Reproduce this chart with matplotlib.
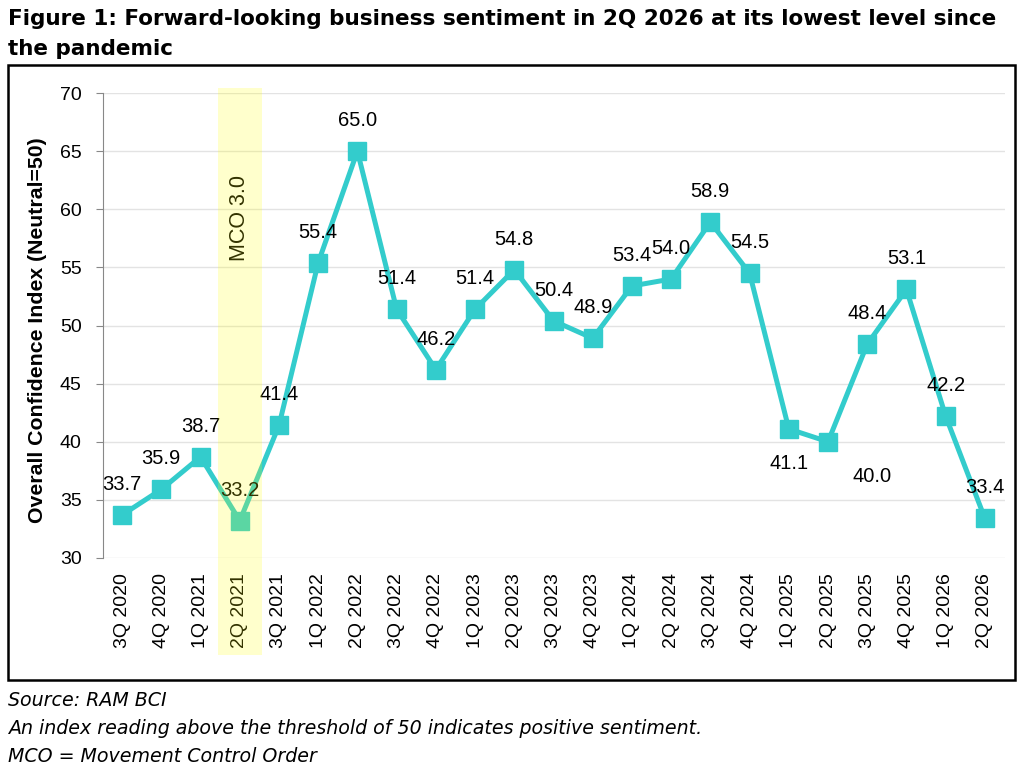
import matplotlib
matplotlib.use("Agg")
import matplotlib.pyplot as plt
from matplotlib.patches import Rectangle
import matplotlib.transforms as mtransforms

categories = ["3Q 2020", "4Q 2020", "1Q 2021", "2Q 2021", "3Q 2021", "1Q 2022",
              "2Q 2022", "3Q 2022", "4Q 2022", "1Q 2023", "2Q 2023", "3Q 2023",
              "4Q 2023", "1Q 2024", "2Q 2024", "3Q 2024", "4Q 2024", "1Q 2025",
              "2Q 2025", "3Q 2025", "4Q 2025", "1Q 2026", "2Q 2026"]
values = [33.7, 35.9, 38.7, 33.2, 41.4, 55.4, 65.0, 51.4, 46.2, 51.4, 54.8, 50.4,
          48.9, 53.4, 54.0, 58.9, 54.5, 41.1, 40.0, 48.4, 53.1, 42.2, 33.4]
yticks = [30, 35, 40, 45, 50, 55, 60, 65, 70]

title_lines = ["Figure 1: Forward-looking business sentiment in 2Q 2026 at its lowest level since",
               "the pandemic"]
notes = ["Source: RAM BCI",
         "An index reading above the threshold of 50 indicates positive sentiment.",
         "MCO = Movement Control Order"]

W, H = 1021, 772
fig = plt.figure(figsize=(W / 100, H / 100), dpi=100)

# outer frame
fig.patches.append(Rectangle((8 / W, 1 - 680 / H), (1015 - 8) / W, (680 - 65) / H,
                             transform=fig.transFigure, fill=False, edgecolor="black",
                             linewidth=1.8, zorder=0))

ax = fig.add_axes([102.5 / W, 1 - 558 / H, (1004.5 - 102.5) / W, (558 - 93) / H])
x = list(range(len(categories)))
line_color = "#33CCCC"
ax.plot(x, values, color=line_color, lw=3.6, marker="s", ms=13, zorder=3,
        solid_joinstyle="miter")

ax.set_xlim(-0.5, len(categories) - 0.5)
ax.set_ylim(30, 70)
ax.set_yticks(yticks)
ax.set_xticks(x)
ax.set_xticklabels(categories, rotation=90, family="Liberation Sans", fontsize=14)
ax.set_yticklabels([str(t) for t in yticks], family="Liberation Sans", fontsize=14)
ax.tick_params(axis="x", length=0, pad=11)
ax.tick_params(axis="y", length=5, color="#888888", pad=10)
ax.grid(axis="y", color="#E3E3E3", lw=1)
ax.set_axisbelow(True)
for s in ["top", "right", "bottom"]:
    ax.spines[s].set_visible(False)
ax.spines["left"].set_color("#888888")

# data labels
offsets = {17: (0, -25), 18: (32, -25)}
for i, v in enumerate(values):
    dx, dy = offsets.get(i, (0, 22))
    ax.annotate(f"{v:.1f}", (i, v), xytext=(dx, dy), textcoords="offset points",
                ha="center", va="center", family="Liberation Sans", fontsize=14.5,
                zorder=4, annotation_clip=False)

# MCO band
trans = mtransforms.blended_transform_factory(ax.transData, ax.transAxes)
band = Rectangle((2.45, -0.2086), 1.12, 1.2194, transform=trans, facecolor="#FFFF00",
                 alpha=0.2, edgecolor="none", zorder=10, clip_on=False)
ax.add_patch(band)
ax.text(3.0, 59.25, "MCO 3.0", rotation=90, ha="center", va="center",
        family="Liberation Sans", fontsize=15.5, color="#000000", zorder=9)

ax.set_ylabel("Overall Confidence Index (Neutral=50)", family="Liberation Sans",
              fontweight="bold", fontsize=15.3)
ax.yaxis.set_label_coords((47 - 102.5) / (1004.5 - 102.5), 0.49)

for k, t in enumerate(title_lines):
    fig.text(8 / W, 1 - (25 + 30 * k) / H, t, ha="left", va="baseline", fontsize=15.5,
             fontweight="bold", family="DejaVu Sans")

for k, t in enumerate(notes):
    fig.text(8 / W, 1 - (700 + 28.5 * k) / H, t, ha="left", va="center", fontsize=13.7,
             style="italic", family="DejaVu Sans")

fig.savefig("out.png", dpi=100)
